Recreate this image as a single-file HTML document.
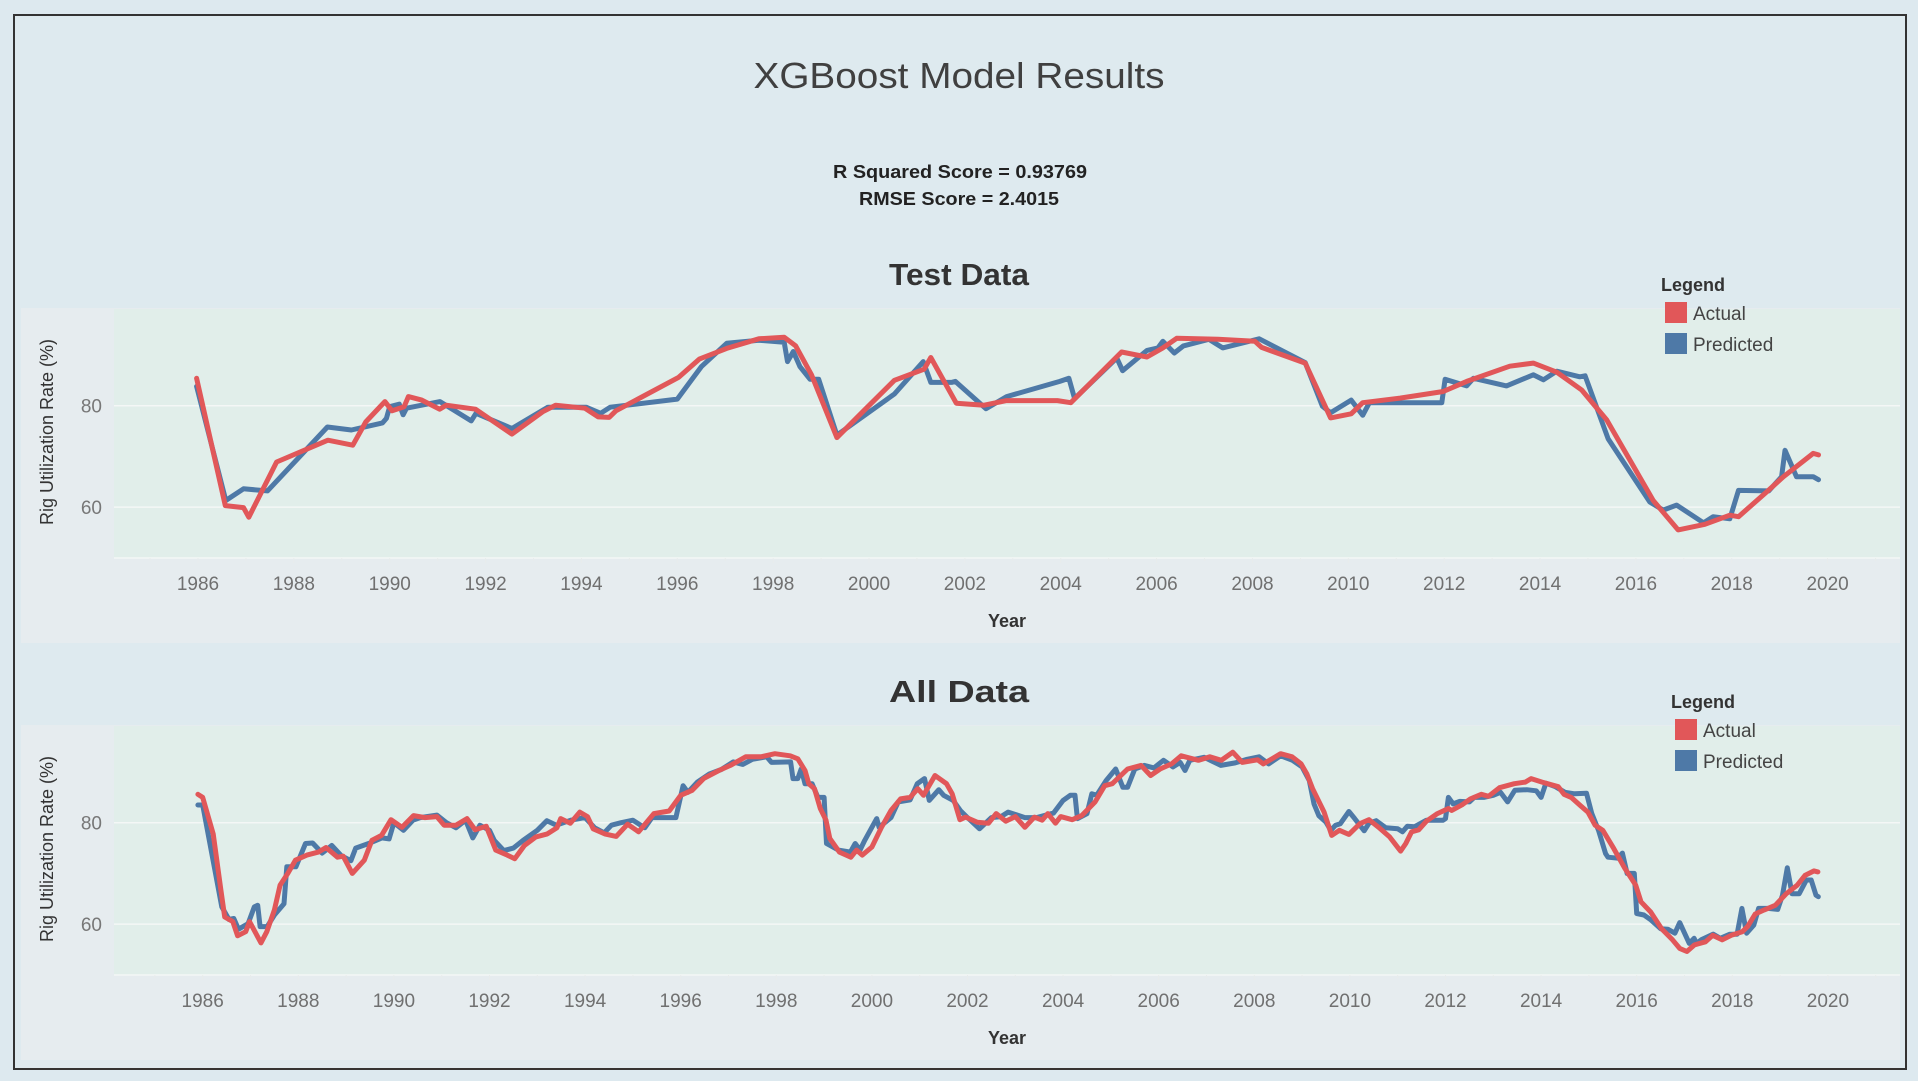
<!DOCTYPE html>
<html><head><meta charset="utf-8"><style>
html,body{margin:0;padding:0;background:#dde9ef;}
body{width:1918px;height:1081px;overflow:hidden;position:relative;font-family:"Liberation Sans",sans-serif;}
svg{position:absolute;left:0;top:0;}
</style></head><body>
<svg id="chart" width="1918" height="1081" xmlns="http://www.w3.org/2000/svg">
<rect x="0" y="0" width="1918" height="1081" fill="#dde9ef"/>
<rect x="14" y="15" width="1892" height="1054" fill="#deeaef" stroke="#333" stroke-width="2"/>
<text x="959" y="88" text-anchor="middle" font-size="36" fill="#404040" textLength="411" lengthAdjust="spacingAndGlyphs">XGBoost Model Results</text>
<text x="960" y="178" text-anchor="middle" font-size="18" font-weight="bold" fill="#222" textLength="254" lengthAdjust="spacingAndGlyphs">R Squared Score = 0.93769</text>
<text x="959" y="205" text-anchor="middle" font-size="18" font-weight="bold" fill="#222" textLength="200" lengthAdjust="spacingAndGlyphs">RMSE Score = 2.4015</text>
<g id="c1"></g>
<g id="c2"></g>
</svg>
<script>
// ---- Test data ----
const testActualYears=[1985.97,1986.57,1986.95,1987.06,1987.64,1988.71,1989.23,1989.5,1989.9,1990.05,1990.3,1990.39,1990.67,1991.04,1991.18,1991.79,1992.55,1993.19,1993.46,1994.07,1994.35,1994.58,1994.72,1996.03,1996.46,1997.03,1997.7,1998.23,1998.47,1998.8,1999.33,1999.9,2000.53,2001.15,2001.29,2001.82,2002.4,2002.87,2003.93,2004.21,2005.27,2005.8,2006.13,2006.42,2007.28,2008.05,2008.19,2009.1,2009.63,2010.06,2010.3,2011.08,2011.98,2012.47,2013.37,2013.86,2014.35,2014.87,2015.39,2016.36,2016.88,2017.44,2017.96,2018.14,2018.73,2019.08,2019.7,2019.81];
const testActualVals=[85.4,60.3,59.9,58,68.9,73.2,72.2,76.8,80.8,79,79.8,81.8,81.1,79.3,80.1,79.3,74.4,78.8,80.1,79.5,77.8,77.7,79,85.6,89.2,91.3,93.2,93.5,91.8,86.1,73.7,79.1,85,87.2,89.5,80.5,80.1,81,81,80.6,90.6,89.6,91.4,93.3,93.1,92.7,91.5,88.4,77.6,78.4,80.6,81.5,82.8,84.8,87.8,88.4,86.6,83.1,77.2,61.3,55.5,56.6,58.4,58.1,63,66,70.6,70.3];
const testPredYears=[1985.97,1986.58,1986.95,1987.45,1988.7,1989.2,1989.85,1989.93,1990.0,1990.2,1990.28,1990.35,1991.05,1991.7,1991.8,1992.55,1993.3,1993.45,1994.1,1994.4,1994.6,1996.0,1996.5,1997.03,1997.7,1998.23,1998.3,1998.42,1998.56,1998.77,1998.95,1999.33,2000.53,2001.13,2001.29,2001.72,2001.8,2002.44,2002.87,2003.98,2004.17,2004.29,2005.17,2005.29,2005.8,2006.03,2006.13,2006.37,2006.56,2007.09,2007.38,2008.14,2009.1,2009.46,2009.63,2010.06,2010.3,2010.44,2011.95,2012.02,2012.47,2012.61,2013.3,2013.86,2014.07,2014.35,2014.83,2014.94,2015.42,2016.29,2016.57,2016.85,2017.41,2017.61,2017.96,2018.14,2018.77,2019.04,2019.11,2019.35,2019.7,2019.81];
const testPredVals=[83.8,61.3,63.6,63.2,75.8,75.2,76.6,77.5,79.8,80.3,78.2,79.5,80.8,77,78.5,75.5,79.7,79.7,79.7,78.5,79.7,81.3,87.7,92.3,92.9,92.5,88.7,90.7,87.7,85.2,85.2,74.2,82.3,88.7,84.6,84.6,84.8,79.4,81.8,84.8,85.4,81.4,89.4,86.9,90.9,91.4,92.7,90.4,91.8,93.1,91.4,93.2,88.5,79.9,78.6,81.1,78.1,80.6,80.6,85.2,83.9,85.4,83.9,86.1,85.1,86.8,85.7,85.9,73.5,61,59.4,60.4,56.9,58.1,57.7,63.3,63.2,66,71.2,66,66,65.4];
// ---- All data ----
const allActualYears=[1985.9,1986.0,1986.22,1986.38,1986.46,1986.63,1986.73,1986.9,1986.98,1987.22,1987.34,1987.5,1987.62,1987.78,1987.94,1988.18,1988.42,1988.58,1988.82,1988.94,1989.13,1989.38,1989.54,1989.74,1989.94,1990.17,1990.41,1990.65,1990.9,1991.05,1991.3,1991.53,1991.7,1991.93,1992.13,1992.37,1992.53,1992.73,1992.97,1993.21,1993.41,1993.49,1993.69,1993.89,1994.05,1994.17,1994.41,1994.65,1994.89,1995.12,1995.44,1995.76,1996.0,1996.24,1996.48,1996.8,1997.04,1997.36,1997.68,1997.97,1998.29,1998.45,1998.6,1998.68,1998.8,1998.92,1999.04,1999.12,1999.32,1999.56,1999.68,1999.8,2000.0,2000.2,2000.4,2000.6,2000.8,2000.96,2001.08,2001.32,2001.56,2001.68,2001.84,2001.96,2002.2,2002.44,2002.6,2002.8,2003.0,2003.2,2003.4,2003.56,2003.68,2003.84,2003.95,2004.19,2004.39,2004.67,2004.87,2005.03,2005.35,2005.63,2005.83,2006.03,2006.27,2006.47,2006.83,2007.07,2007.31,2007.55,2007.75,2008.07,2008.19,2008.55,2008.79,2008.98,2009.1,2009.22,2009.46,2009.62,2009.78,2009.98,2010.21,2010.4,2010.6,2010.83,2011.06,2011.17,2011.29,2011.44,2011.6,2011.83,2012.06,2012.13,2012.36,2012.52,2012.75,2012.9,2013.13,2013.44,2013.67,2013.79,2014.02,2014.21,2014.36,2014.48,2014.63,2014.82,2014.98,2015.13,2015.29,2015.52,2015.75,2015.98,2016.09,2016.29,2016.52,2016.75,2016.9,2017.05,2017.21,2017.44,2017.59,2017.79,2017.98,2018.21,2018.32,2018.48,2018.67,2018.9,2019.13,2019.36,2019.52,2019.71,2019.79];
const allActualVals=[85.6,85,77.8,66.7,61.4,60.5,57.7,58.5,60.5,56.3,58.5,62.8,67.7,70,72.6,73.6,74.2,75.1,73.2,73.4,70,72.6,76.5,77.5,80.6,79.1,81.4,81,81.2,79.5,79.5,80.8,78.6,79.3,74.6,73.6,72.9,75.5,77.2,77.8,79,80.8,79.9,82.1,81.2,78.8,77.8,77.3,79.7,78.2,81.8,82.3,85.4,86.4,88.7,90.3,91.3,93,93,93.6,93.2,92.6,90.3,87.7,86.7,82.8,80.5,76.9,74.2,73.2,74.6,73.6,75.2,79.1,82.4,84.7,85,86.7,85.4,89.3,87.7,85.7,80.6,81.1,80.1,79.9,81.8,80.3,81.2,79.1,81.1,80.5,81.8,79.9,81.2,80.6,81.4,84.1,87.3,87.7,90.6,91.3,89.3,90.6,91.6,93.2,92.3,93,92.3,93.9,91.9,92.4,91.6,93.6,93,91.6,89.6,86.7,82.1,77.5,78.5,77.7,79.8,80.6,79.1,77.2,74.4,75.9,78.2,78.6,80.3,81.8,82.8,82.4,83.6,84.7,85.6,85.2,86.9,87.7,88,88.7,88,87.5,87.1,85.6,85,83.4,82.1,79.5,78.5,74.9,71,67.7,64.4,62.4,59.1,56.9,55.2,54.6,55.9,56.5,57.8,56.9,57.8,58.5,59.5,62,62.8,63.7,66,67.7,69.6,70.5,70.3];
const allPredYears=[1985.9,1986.0,1986.4,1986.55,1986.65,1986.75,1986.95,1987.08,1987.15,1987.2,1987.35,1987.5,1987.7,1987.76,1987.95,1988.15,1988.3,1988.5,1988.7,1988.9,1989.1,1989.2,1989.5,1989.75,1989.9,1990.0,1990.2,1990.4,1990.55,1990.9,1991.1,1991.3,1991.5,1991.65,1991.8,1992.0,1992.1,1992.3,1992.5,1992.7,1993.0,1993.2,1993.4,1993.7,1994.0,1994.2,1994.4,1994.55,1994.75,1995.0,1995.25,1995.4,1995.9,1996.05,1996.15,1996.35,1996.6,1996.85,1997.1,1997.3,1997.5,1997.8,1997.9,1998.3,1998.35,1998.45,1998.52,1998.6,1998.75,1998.87,1999.0,1999.05,1999.3,1999.55,1999.65,1999.75,1999.85,2000.1,2000.15,2000.4,2000.55,2000.8,2000.95,2001.1,2001.2,2001.4,2001.5,2001.7,2001.85,2002.0,2002.25,2002.5,2002.7,2002.85,2003.2,2003.45,2003.8,2004.0,2004.15,2004.25,2004.3,2004.5,2004.6,2004.7,2004.9,2005.1,2005.25,2005.35,2005.5,2005.7,2005.9,2006.1,2006.3,2006.45,2006.55,2006.65,2006.95,2007.3,2007.6,2007.85,2008.1,2008.3,2008.55,2008.8,2009.0,2009.15,2009.25,2009.35,2009.5,2009.6,2009.7,2009.8,2009.98,2010.1,2010.3,2010.4,2010.55,2010.75,2011.0,2011.1,2011.2,2011.35,2011.6,2011.95,2012.0,2012.06,2012.16,2012.3,2012.5,2012.6,2012.8,2013.0,2013.15,2013.3,2013.45,2013.7,2013.9,2014.0,2014.1,2014.3,2014.5,2014.7,2014.95,2015.06,2015.2,2015.35,2015.4,2015.6,2015.7,2015.8,2015.95,2016.0,2016.15,2016.3,2016.5,2016.65,2016.8,2016.9,2017.1,2017.2,2017.25,2017.35,2017.6,2017.75,2017.95,2018.1,2018.2,2018.3,2018.45,2018.55,2018.75,2018.95,2019.05,2019.15,2019.25,2019.4,2019.55,2019.65,2019.75,2019.8];
const allPredVals=[83.5,83.5,63.4,60.9,61.1,59,60.1,63.4,63.7,59.5,59.5,61.8,64,71.3,71.3,75.9,76,74,75.5,73.5,72.5,75,76,77,76.8,80,78.5,80.5,81,81.5,80,79,80.5,77,79.5,78.5,76.5,74.5,75,76.5,78.5,80.4,79.5,80.5,81,79,78,79.5,80,80.5,79,81,81,87.3,86,88,89.6,90.5,92,91.5,92.5,93,91.9,92,88.7,88.7,90.6,87.7,87.7,85,85,75.9,74.6,74.2,75.9,74.6,76.5,80.8,79.1,81,84.1,84.5,87.7,88.7,84.4,86.5,85.4,84.4,82.4,81,78.8,81,81.2,82.1,81,81,81.9,84.4,85.4,85.4,80.8,81.8,85.7,85.4,88.3,90.6,87,87,90.6,91.3,90.8,92.3,91,91.9,90.3,92.3,92.9,91.3,91.8,92.5,93,91.6,93.2,92.3,91,88.3,83.7,81.4,80.1,78.5,79.5,79.8,82.2,80.8,78.4,79.9,80.4,79,78.8,78.2,79.3,79.2,80.5,80.5,80.8,85,83.7,84.2,84.1,85,85,85.4,86,84.1,86.4,86.5,86.3,85,87.8,87.1,86,85.7,85.8,81.8,78.5,73.9,73.2,73,74,70,70,62.1,61.8,60.8,59.1,59,58.2,60.3,56.2,57.2,56.2,56.9,58,57.2,58,58,63.1,58.2,59.8,63.1,63.1,62.9,65.7,71.1,66,66,68.7,68.7,65.7,65.4];
const xTicks=[1986,1988,1990,1992,1994,1996,1998,2000,2002,2004,2006,2008,2010,2012,2014,2016,2018,2020];
const yTicks=[60,80];
const seriesNames=['Actual','Predicted'];

const NS='http://www.w3.org/2000/svg';
const RED='#e15759', BLUE='#4e79a7';
function mk(parent,tag,attrs,text){const e=document.createElementNS(NS,tag);for(const k in attrs)e.setAttribute(k,attrs[k]);if(text!==undefined)e.textContent=text;parent.appendChild(e);return e;}

function drawChart(g,cfg,title,predY,predV,actY,actV){
  const dy=cfg.dy;
  const plotTop=309+dy, plotBot=558+dy, plotL=114, plotR=1900;
  const xs=yr=>cfg.x0+(yr-1986)*cfg.px;
  const ys=v=>405.7+dy+(80-v)*5.07;
  const t=mk(g,'text',{x:959,y:285+dy,'text-anchor':'middle','font-size':31,'font-weight':'bold',fill:'#333',textLength:140,lengthAdjust:'spacingAndGlyphs'},title);
  
  
  const pane=mk(g,'rect',{x:21,y:308+dy,width:1879,height:335,fill:'#e6ecef'});
  
  
  const plot=mk(g,'rect',{x:plotL,y:plotTop,width:plotR-plotL,height:plotBot-plotTop,fill:'#e1eeea'});
  
  
  yTicks.forEach(v=>{
    const l=mk(g,'line',{x1:plotL,x2:plotR,y1:ys(v),y2:ys(v),stroke:'#f4f7f6','stroke-width':1.5});
    
    
    const tl=mk(g,'text',{x:102,y:ys(v)+7,'text-anchor':'end','font-size':19,fill:'#777'},String(v));
    
    
  });
  const ax=mk(g,'line',{x1:plotL,x2:plotR,y1:plotBot,y2:plotBot,stroke:'#f4f7f6','stroke-width':1.5});
  
  
  for(let yr=1985;yr<=2021;yr++){
    const tk=mk(g,'line',{x1:xs(yr),x2:xs(yr),y1:plotBot,y2:plotBot+(yr%2===0?5:3),stroke:'#e8ecec','stroke-width':1});
    
    
  }
  xTicks.forEach(yr=>{
    const tl=mk(g,'text',{x:xs(yr),y:plotBot+32,'text-anchor':'middle','font-size':19,fill:'#707070'},String(yr));
    
    
  });
  const xt=mk(g,'text',{x:1007,y:627+dy,'text-anchor':'middle','font-size':18,'font-weight':'bold',fill:'#333'},'Year');
  
  
  const yt=mk(g,'text',{x:0,y:0,'text-anchor':'middle','font-size':18,fill:'#333',transform:'translate(53,'+(432+dy)+') rotate(-90)'},'Rig Utilization Rate (%)');
  
  
  const line=(Y,V)=>Y.map((y,i)=>(i?'L':'M')+xs(y).toFixed(1)+','+ys(V[i]).toFixed(1)).join('');
  const pb=mk(g,'path',{d:line(predY,predV),fill:'none',stroke:BLUE,'stroke-width':5,'stroke-linejoin':'round','stroke-linecap':'round'});
  
  
  const pa=mk(g,'path',{d:line(actY,actV),fill:'none',stroke:RED,'stroke-width':5,'stroke-linejoin':'round','stroke-linecap':'round'});
  
  
  const lx=cfg.lx;
  const lg=mk(g,'g',{});
  
  
  const lt=mk(lg,'text',{x:lx,y:291+dy,'font-size':18,'font-weight':'bold',fill:'#333'},'Legend');
  
  
  [RED,BLUE].forEach((c,i)=>{
    const sw=mk(lg,'rect',{x:lx+4,y:302+dy+i*31,width:22,height:21,fill:c});
    
    
    const st=mk(lg,'text',{x:lx+32,y:320+dy+i*31,'font-size':19,fill:'#444'},seriesNames[i]);
    
    
  });
}
const c1=document.getElementById('c1');


const c2=document.getElementById('c2');


drawChart(c1,{dy:0,x0:198,px:47.93,lx:1661},'Test Data',testPredYears,testPredVals,testActualYears,testActualVals);
drawChart(c2,{dy:417,x0:202.7,px:47.8,lx:1671},'All Data',allPredYears,allPredVals,allActualYears,allActualVals);
</script>
</body></html>
